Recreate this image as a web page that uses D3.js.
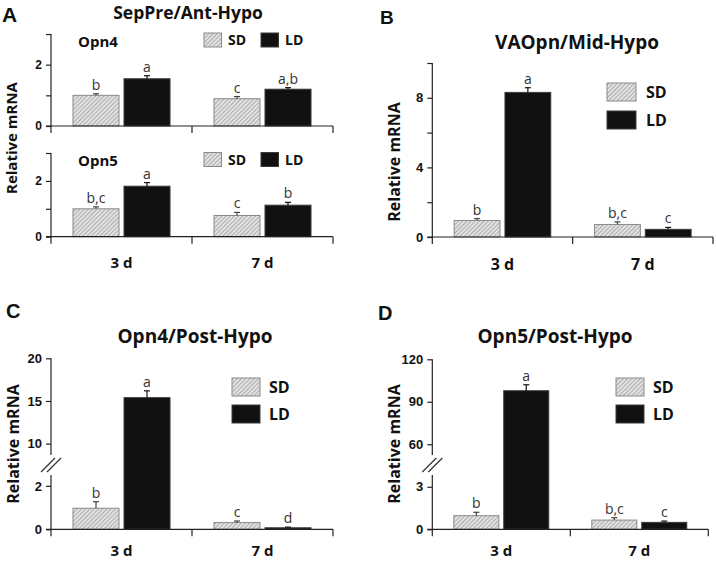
<!DOCTYPE html>
<html><head><meta charset="utf-8">
<script src="https://cdn.jsdelivr.net/npm/d3@7"></script>
<style>body{margin:0;background:#fff}svg{display:block}</style>
</head><body><svg id="c" width="716" height="561"></svg>
<script>
// ---------- DATA ----------
const groups = ["3 d", "7 d"];
const series = ["SD", "LD"];

// Panel A – Opn4 (SepPre/Ant-Hypo)
const aOpn4SD = [1.00, 0.89], aOpn4SDErr = [0.05, 0.07];
const aOpn4LD = [1.54, 1.20], aOpn4LDErr = [0.10, 0.05];
const aOpn4SDLetters = ["b", "c"], aOpn4LDLetters = ["a", "a,b"];
const aTicks = [0, 1, 2, 3], aTickLabels = [0, 2];

// Panel A – Opn5
const aOpn5SD = [1.00, 0.76], aOpn5SDErr = [0.07, 0.11];
const aOpn5LD = [1.81, 1.13], aOpn5LDErr = [0.13, 0.10];
const aOpn5SDLetters = ["b,c", "c"], aOpn5LDLetters = ["a", "b"];

// Panel B – VAOpn/Mid-Hypo
const bSD = [0.95, 0.72], bSDErr = [0.11, 0.15];
const bLD = [8.31, 0.44], bLDErr = [0.27, 0.11];
const bSDLetters = ["b", "b,c"], bLDLetters = ["a", "c"];
const bTicks = [0, 2, 4, 6, 8, 10], bTickLabels = [0, 4, 8];

// Panel C – Opn4/Post-Hypo (broken axis)
const cSD = [0.97, 0.31], cSDErr = [0.30, 0.07];
const cLD = [15.39, 0.07], cLDErr = [0.80, 0.03];
const cSDLetters = ["b", "c"], cLDLetters = ["a", "d"];
const cTicks = [0, 2, 10, 15, 20], cTickLabels = [0, 2, 10, 15, 20];
const cBreak = [2.5, 8.67];

// Panel D – Opn5/Post-Hypo (broken axis)
const dSD = [0.96, 0.65], dSDErr = [0.24, 0.17];
const dLD = [97.8, 0.49], dLDErr = [4.2, 0.09];
const dSDLetters = ["b", "b,c"], dLDLetters = ["a", "c"];
const dTicks = [0, 3, 60, 90, 120], dTickLabels = [0, 3, 60, 90, 120];
const dBreak = [3.83, 52.4];

// ---------- DRAW ----------
const svg = d3.select("#c");
const SANS = "'Open Sans', sans-serif";
const ARIAL = "'Liberation Sans', Arial, sans-serif";

const defs = svg.append("defs");
const pat = defs.append("pattern").attr("id", "hatch")
  .attr("patternUnits", "userSpaceOnUse").attr("width", 3).attr("height", 3)
  .attr("patternTransform", "rotate(45)");
pat.append("rect").attr("width", 3).attr("height", 3).attr("fill", "#e2e2e2");
pat.append("line").attr("x1", 0).attr("y1", 0).attr("x2", 0).attr("y2", 3)
  .attr("stroke", "#8a8a8a").attr("stroke-width", 1.2);

const fills = {SD: "url(#hatch)", LD: "#111"};
const strokes = {SD: "#8a8a8a", LD: "#3a3a3a"};

function panel(o) {
  const g = svg.append("g");
  const y = d3.scaleLinear().domain(o.domain).range(o.range);
  const x0 = d3.scaleBand().domain(groups).range([o.x, o.xEnd]);
  const x1 = d3.scaleBand().domain(series).range([0, x0.bandwidth()])
    .paddingInner(0.098).paddingOuter(0.431);
  const y0 = y(0);

  const data = [];
  groups.forEach((grp, i) => {
    series.forEach(s => {
      const src = o.vals[s];
      data.push({grp, s, v: src.v[i], e: src.e[i], l: src.l[i]});
    });
  });
  const cx = d => x0(d.grp) + x1(d.s) + x1.bandwidth() / 2;

  // bars
  g.selectAll("rect.bar").data(data).join("rect").attr("class", "bar")
    .attr("x", d => x0(d.grp) + x1(d.s))
    .attr("width", x1.bandwidth())
    .attr("y", d => y(d.v))
    .attr("height", d => y0 - y(d.v))
    .attr("fill", d => fills[d.s]).attr("stroke", d => strokes[d.s]).attr("stroke-width", 1);

  // error bars
  const eb = g.selectAll("g.eb").data(data).join("g").attr("class", "eb")
    .attr("stroke", d => d.s === "SD" ? "#444" : "#111").attr("stroke-width", 1.2);
  eb.append("line").attr("x1", cx).attr("x2", cx)
    .attr("y1", d => y(d.v)).attr("y2", d => y(d.v + d.e));
  eb.append("line").attr("x1", d => cx(d) - 3).attr("x2", d => cx(d) + 3)
    .attr("y1", d => y(d.v + d.e)).attr("y2", d => y(d.v + d.e));

  // letters
  g.selectAll("text.lt").data(data).join("text").attr("class", "lt")
    .attr("x", cx)
    .attr("y", d => y(d.v + d.e) - 4)
    .attr("text-anchor", "middle")
    .attr("font-family", SANS).attr("font-size", o.letterSize || 14)
    .attr("fill", "#333").text(d => d.l);

  // y axis
  const ax = d3.axisLeft(y).tickValues(o.ticks).tickSize(5).tickPadding(4)
    .tickFormat(v => o.tickLabels.includes(v) ? d3.format("d")(v) : "");
  const ag = g.append("g").attr("transform", `translate(${o.x},0)`).call(ax);
  ag.select(".domain").remove();
  ag.selectAll(".tick line").attr("stroke", "#222").attr("stroke-width", 1.2);
  ag.selectAll("text").attr("font-family", ARIAL).attr("font-weight", "bold")
    .attr("font-size", o.tickSize || 13).attr("fill", "#111");
  const segs = o.segments || [[o.range[0], o.range[o.range.length - 1]]];
  segs.forEach(sg => {
    g.append("line").attr("x1", o.x).attr("x2", o.x).attr("y1", sg[0]).attr("y2", sg[1])
      .attr("stroke", "#222").attr("stroke-width", 1.2);
  });
  if (o.segments) {
    const yb = (o.segments[0][1] + o.segments[1][0]) / 2;
    [-3, 3].forEach(dx => {
      g.append("line")
        .attr("x1", o.x - 7 + dx).attr("y1", yb + 7)
        .attr("x2", o.x + 7 + dx).attr("y2", yb - 7)
        .attr("stroke", "#333").attr("stroke-width", 1.2);
    });
  }

  // x axis
  g.append("line").attr("x1", o.x - 5).attr("x2", o.xEnd).attr("y1", y0).attr("y2", y0)
    .attr("stroke", "#222").attr("stroke-width", 1.2);
  [o.x, x0(groups[1]), o.xEnd].forEach(t => {
    g.append("line").attr("x1", t).attr("x2", t).attr("y1", y0).attr("y2", y0 + 7)
      .attr("stroke", "#222").attr("stroke-width", 1.2);
  });
  if (o.catLabels) {
    g.selectAll("text.cat").data(groups).join("text").attr("class", "cat")
      .attr("x", d => x0(d) + x0.bandwidth() / 2).attr("y", o.catY)
      .attr("text-anchor", "middle").attr("font-family", SANS).attr("font-weight", "bold")
      .attr("font-size", o.catSize || 15).attr("fill", "#111").text(d => d);
  }

  // legend
  if (o.legend) {
    const L = o.legend;
    series.forEach((s, i) => {
      const lx = L.x + (L.dx || 0) * i, ly = L.y + (L.dy || 0) * i;
      g.append("rect").attr("x", lx).attr("y", ly).attr("width", L.w).attr("height", L.h)
        .attr("fill", fills[s]).attr("stroke", strokes[s]);
      g.append("text").attr("x", lx + L.w + L.gap).attr("y", ly + L.h / 2)
        .attr("dy", "0.36em").attr("font-family", SANS).attr("font-weight", "bold")
        .attr("font-size", L.size).attr("fill", "#111").text(s);
    });
  }
  if (o.sub) {
    g.append("text").attr("x", o.sub.x).attr("y", o.sub.y).attr("font-family", SANS)
      .attr("font-weight", "bold").attr("font-size", 15).attr("fill", "#111").text(o.sub.t);
  }
}

function text(t, x, y, size, opts = {}) {
  const el = svg.append("text").attr("x", x).attr("y", y).attr("font-size", size)
    .attr("font-family", opts.font || SANS).attr("font-weight", "bold").attr("fill", "#111")
    .attr("text-anchor", opts.anchor || "middle").text(t);
  if (opts.rotate) el.attr("transform", `rotate(-90,${x},${y})`);
  return el;
}

// Panel A
panel({x: 51, xEnd: 333, domain: [0, 3], range: [126, 34], ticks: aTicks, tickLabels: aTickLabels,
  tickSize: 12,
  vals: {SD: {v: aOpn4SD, e: aOpn4SDErr, l: aOpn4SDLetters}, LD: {v: aOpn4LD, e: aOpn4LDErr, l: aOpn4LDLetters}},
  legend: {x: 204, y: 33, w: 17.5, h: 14, gap: 6.5, dx: 57, size: 14},
  sub: {x: 78, y: 47, t: "Opn4"}});
panel({x: 51, xEnd: 333, domain: [0, 3], range: [236.7, 153], ticks: aTicks, tickLabels: aTickLabels,
  tickSize: 12,
  vals: {SD: {v: aOpn5SD, e: aOpn5SDErr, l: aOpn5SDLetters}, LD: {v: aOpn5LD, e: aOpn5LDErr, l: aOpn5LDLetters}},
  legend: {x: 204, y: 152.5, w: 17.5, h: 14, gap: 6.5, dx: 57, size: 14},
  sub: {x: 78, y: 166, t: "Opn5"},
  catLabels: true, catY: 268, catSize: 15});
text("A", 2, 22, 21, {font: ARIAL, anchor: "start"});
text("SepPre/Ant-Hypo", 188, 19, 17.5);
text("Relative mRNA", 17, 138, 15, {rotate: true});

// Panel B
panel({x: 432.3, xEnd: 713, domain: [0, 10], range: [237, 63], ticks: bTicks, tickLabels: bTickLabels,
  vals: {SD: {v: bSD, e: bSDErr, l: bSDLetters}, LD: {v: bLD, e: bLDErr, l: bLDLetters}},
  legend: {x: 607, y: 83, w: 29, h: 18, gap: 10, dy: 28, size: 16},
  catLabels: true, catY: 270, catSize: 16});
text("B", 380, 24, 19, {font: ARIAL, anchor: "start"});
text("VAOpn/Mid-Hypo", 577, 49, 19);
text("Relative mRNA", 400, 162, 16, {rotate: true});

// Panel C
panel({x: 51, xEnd: 333, domain: [0, cBreak[0], cBreak[1], 20], range: [529.3, 475, 455, 358.3],
  ticks: cTicks, tickLabels: cTickLabels,
  segments: [[358.3, 455], [475, 529.3]],
  vals: {SD: {v: cSD, e: cSDErr, l: cSDLetters}, LD: {v: cLD, e: cLDErr, l: cLDLetters}},
  legend: {x: 232, y: 378, w: 28, h: 18, gap: 9, dy: 27, size: 16},
  catLabels: true, catY: 556, catSize: 15});
text("C", 6, 318, 20, {font: ARIAL, anchor: "start"});
text("Opn4/Post-Hypo", 195, 343, 19);
text("Relative mRNA", 19, 444, 16, {rotate: true});

// Panel D
panel({x: 432.3, xEnd: 708.3, domain: [0, dBreak[0], dBreak[1], 120], range: [529.3, 475, 455, 359.3],
  ticks: dTicks, tickLabels: dTickLabels,
  segments: [[359.3, 455], [475, 529.3]],
  vals: {SD: {v: dSD, e: dSDErr, l: dSDLetters}, LD: {v: dLD, e: dLDErr, l: dLDLetters}},
  legend: {x: 616, y: 378, w: 28, h: 18, gap: 9, dy: 27, size: 16},
  catLabels: true, catY: 556, catSize: 15});
text("D", 378, 320, 20, {font: ARIAL, anchor: "start"});
text("Opn5/Post-Hypo", 555, 343, 19);
text("Relative mRNA", 400, 444, 16, {rotate: true});
</script></body></html>
